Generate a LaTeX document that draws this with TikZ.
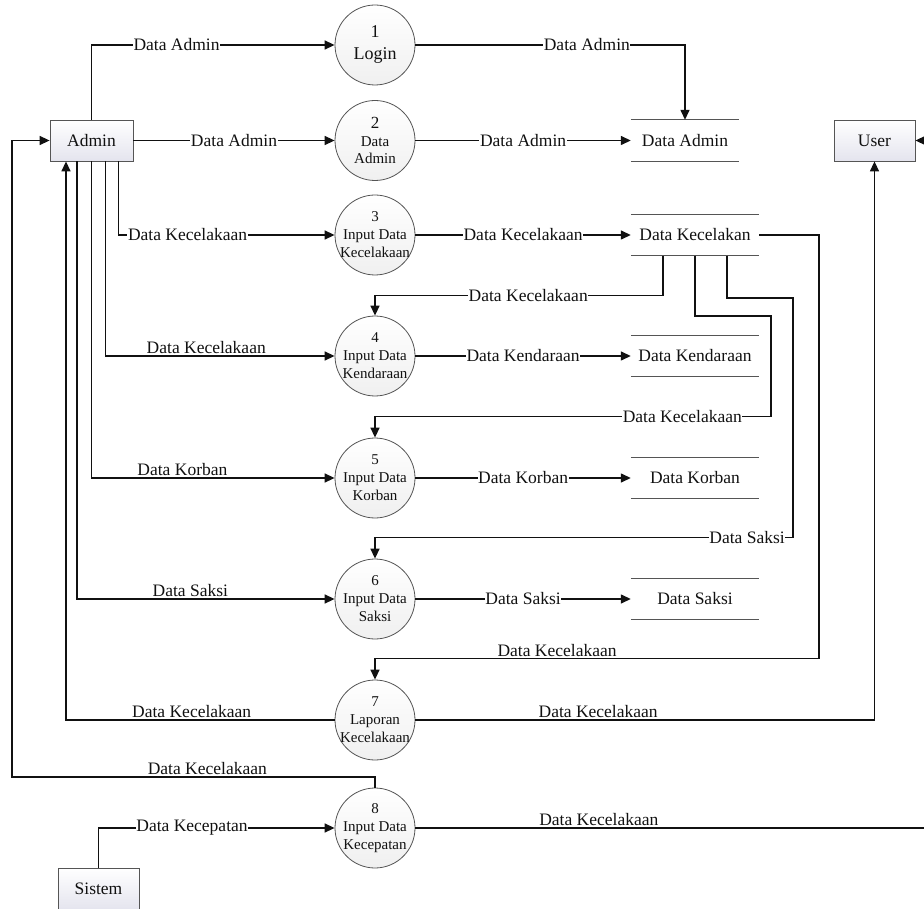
\documentclass[tikz,border=0pt]{standalone}
\usepackage{fontspec}
\setmainfont{Liberation Serif}
\newfontfamily\tnr{Liberation Serif}
\usetikzlibrary{arrows.meta,calc}
\definecolor{ink}{HTML}{111111}
\definecolor{rim}{HTML}{555555}
\definecolor{boxb}{HTML}{E4E4EE}
\begin{document}
\begin{tikzpicture}[x=1pt,y=-1pt,
  lbl/.style={fill=white,inner xsep=0.6pt,inner ysep=1pt,font=\tnr\fontsize{17.5}{20}\selectfont,text=ink},
  lblup/.style={above,inner sep=1.5pt,font=\tnr\fontsize{17.5}{20}\selectfont,text=ink},
  wire/.style={draw=ink,line width=1.4pt},
  flow/.style={wire,-{Triangle[length=10pt,width=9pt]}},
  proc/.style={circle,draw=rim,line width=0.8pt,minimum size=80pt,inner sep=0pt,top color=white,bottom color=gray!12},
  ptext/.style={align=center,font=\tnr\fontsize{15}{18}\selectfont,text=ink,inner sep=0pt},
  ent/.style={draw=rim,line width=0.8pt,minimum width=82pt,minimum height=41pt,inner sep=0pt,top color=white,bottom color=boxb,font=\tnr\fontsize{17.5}{20}\selectfont,text=ink},
  store/.style={minimum width=128pt,minimum height=41pt,inner sep=0pt,font=\tnr\fontsize{17.5}{20}\selectfont,text=ink},
  storeline/.style={draw=rim,line width=0.8pt}]
\path[use as bounding box] (0,0) rectangle (924,909);
\clip (0,0) rectangle (924,909);

% external entities
\node[ent,minimum width=83pt] (admin) at (91.5,140.5) {Admin};
\node[ent,minimum width=81pt] (user) at (874.5,140.5) {User};
\node[ent,minimum width=81pt,minimum height=42pt] (sistem) at (98.5,889) {Sistem};

% processes
\node[proc] (p1) at (375,45) {};
\node[ptext,font=\tnr\fontsize{18}{22}\selectfont] at (p1) {1\\Login};
\node[proc] (p2) at (375,140.5) {};
\node[ptext,font=\tnr\fontsize{15}{17.5}\selectfont] at (p2) {{\fontsize{17}{17}\selectfont 2}\\Data\\Admin};
\node[proc] (p3) at (375,235) {};
\node[ptext] at (p3) {3\\Input Data\\Kecelakaan};
\node[proc] (p4) at (375,356) {};
\node[ptext] at (p4) {4\\Input Data\\Kendaraan};
\node[proc] (p5) at (375,478) {};
\node[ptext] at (p5) {5\\Input Data\\Korban};
\node[proc] (p6) at (375,599) {};
\node[ptext] at (p6) {6\\Input Data\\Saksi};
\node[proc] (p7) at (375,720) {};
\node[ptext] at (p7) {7\\Laporan\\Kecelakaan};
\node[proc] (p8) at (375,828) {};
\node[ptext] at (p8) {8\\Input Data\\Kecepatan};

% data stores
\node[store,minimum width=108pt] (s1) at (685,140.5) {Data Admin};
\node[store] (s2) at (695,235) {Data Kecelakan};
\node[store] (s3) at (695,356) {Data Kendaraan};
\node[store] (s4) at (695,478) {Data Korban};
\node[store] (s5) at (695,599) {Data Saksi};
\foreach \s in {s1,s2,s3,s4,s5}{
  \draw[storeline] (\s.north west) -- (\s.north east) (\s.south west) -- (\s.south east);
}

% helper corners
\coordinate (c8) at (12,777);
\coordinate (k1) at (771,316);
\coordinate (k2) at (793,298);
\coordinate (k3) at (819,235);
\coordinate (rout) at (935,828);
\coordinate (rin) at (935,140.5);

% Admin flows
\draw[flow] (admin.north) |- node[lbl,pos=0.675] {Data Admin} (p1.west);
\draw[flow] (admin.east) -- node[lbl,pos=0.5] {Data Admin} (p2.west);
\draw[flow] ([xshift=-15pt]admin.south east) |- node[lbl,pos=0.66] {Data Kecelakaan} (p3.west);
\draw[flow] ([xshift=-28pt]admin.south east) |- node[lblup,pos=0.72] {Data Kecelakaan} (p4.west);
\draw[flow] (admin.south) |- node[lblup,pos=0.687] {Data Korban} (p5.west);
\draw[flow] ([xshift=-14.5pt]admin.south) |- node[lblup,pos=0.72] {Data Saksi} (p6.west);
\draw[flow] (p7.west) -| node[lblup,pos=0.266] {Data Kecelakaan} ([xshift=-25.5pt]admin.south);
\draw[flow] (p8.north) |- node[lblup,pos=0.731] {Data Kecelakaan} (c8) |- (admin.west);

% process to store
\draw[flow] (p1.east) -| node[lbl,pos=0.318] {Data Admin} (s1.north);
\draw[flow] (p2.east) -- node[lbl,pos=0.5] {Data Admin} (s1.west);
\draw[flow] (p3.east) -- node[lbl,pos=0.5] {Data Kecelakaan} (s2.west);
\draw[flow] (p4.east) -- node[lbl,pos=0.5] {Data Kendaraan} (s3.west);
\draw[flow] (p5.east) -- node[lbl,pos=0.5] {Data Korban} (s4.west);
\draw[flow] (p6.east) -- node[lbl,pos=0.5] {Data Saksi} (s5.west);

% store Data Kecelakan to processes
\draw[flow] ([xshift=-32pt]s2.south) |- node[lbl,pos=0.734] {Data Kecelakaan} ([yshift=20pt]p4.north) -- (p4.north);
\draw[flow] (s2.south) |- (k1) |- node[lbl,pos=0.612] {Data Kecelakaan} ([yshift=21pt]p5.north) -- (p5.north);
\draw[flow] ([xshift=32pt]s2.south) |- (k2) |- node[lbl,pos=0.555] {Data Saksi} ([yshift=21pt]p6.north) -- (p6.north);
\draw[flow] (s2.east) -- (k3) |- node[lblup,pos=0.795] {Data Kecelakaan} ([yshift=21pt]p7.north) -- (p7.north);

% to user / right side
\draw[flow] (p7.east) -| node[lblup,pos=0.199] {Data Kecelakaan} (user.south);
\draw[wire] (p8.east) -- node[lblup,pos=0.353] {Data Kecelakaan} (rout);
\draw[flow] (rin) -- (user.east);

% Sistem
\draw[flow] (sistem.north) |- node[lbl,pos=0.698] {Data Kecepatan} (p8.west);
\end{tikzpicture}
\end{document}
